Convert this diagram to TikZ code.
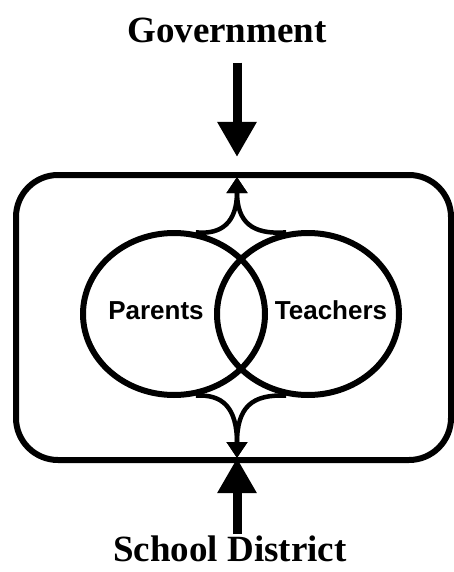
\documentclass[tikz,border=0pt]{standalone}
\usepackage{fontspec}
\setmainfont{Liberation Serif}
\setsansfont{Liberation Sans}
\usetikzlibrary{arrows.meta,shapes.geometric}

\tikzset{
    bigarrow/.style={line width=9pt, -{Triangle[length=35pt,width=37pt]}},
    smallarrow/.style={line width=4.5pt, -{Triangle[length=16pt,width=20pt]}},
    ring/.style={draw, ellipse, line width=6pt, minimum width=182pt, minimum height=162pt, inner sep=0pt},
    title/.style={font=\bfseries\fontsize{37}{37}\selectfont, anchor=base, inner sep=0pt},
    ringtext/.style={font=\sffamily\bfseries\fontsize{26}{26}\selectfont, anchor=base, inner sep=0pt}
}

\begin{document}
\begin{tikzpicture}[x=1pt, y=-1pt]
    \useasboundingbox (0,0) rectangle (454,572);
    % Titles
    \node[title] (gov) at (227,43) {Government};
    \node[title] (district) at (230,561) {School District};
    % Outer box
    \node[draw, line width=6pt, rounded corners=42pt, inner sep=0pt,
          minimum width=435pt, minimum height=285pt] (box) at (233.5,317.5) {};
    \coordinate (top) at (237,175);
    \coordinate (bottom) at (237,460);
    % Circles
    \foreach \n/\x in {parents/174, teachers/308} {
        \node[ring] (\n) at (\x,314) {};
    }
    \node[ringtext] (parentstext) at (156,319) {Parents};
    \node[ringtext] (teacherstext) at (331,319) {Teachers};
    % Outside arrows
    \draw[bigarrow, shorten <=19pt, shorten >=18pt] (gov.south -| top) -- (top);
    \draw[bigarrow, shorten <=1pt, shorten >=-2pt] (district.north -| bottom) -- (bottom);
    % Inside arrows
    \draw[smallarrow] (parents.75) .. controls (222,235) and (237,222) .. ([yshift=-2pt]top);
    \draw[smallarrow] (teachers.105) .. controls (252,235) and (237,222) .. ([yshift=-2pt]top);
    \draw[smallarrow] (parents.-75) .. controls (222,394) and (237,407) .. ([yshift=2pt]bottom);
    \draw[smallarrow] (teachers.-105) .. controls (252,394) and (237,407) .. ([yshift=2pt]bottom);
\end{tikzpicture}
\end{document}
